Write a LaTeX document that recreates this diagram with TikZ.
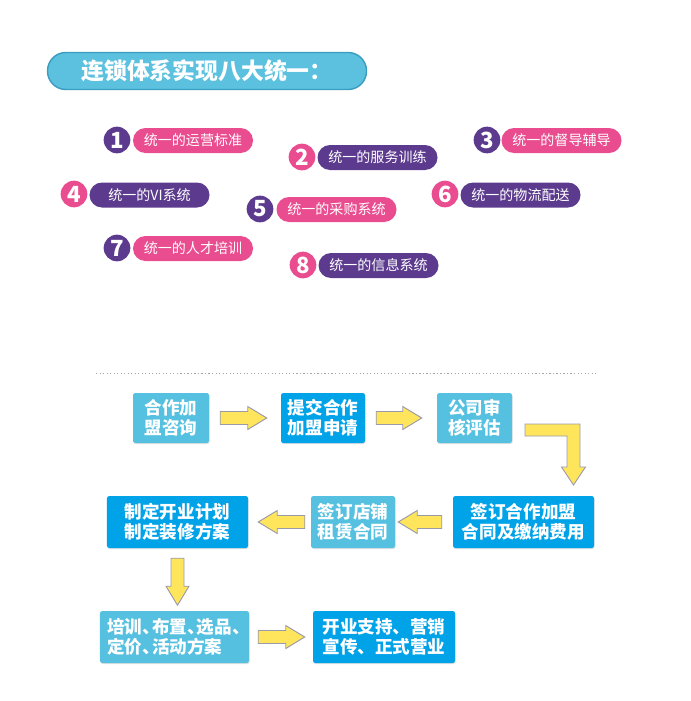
\documentclass[tikz,border=0pt]{standalone}
\usepackage{fontspec}
\setmainfont{Noto Sans CJK SC}
\usetikzlibrary{calc, shadows}

\definecolor{pinkpill}{HTML}{E94C8F}
\definecolor{purplepill}{HTML}{5C3B8E}
\definecolor{lightbox}{HTML}{56C0E0}
\definecolor{darkbox}{HTML}{00A2E8}
\definecolor{titlefill}{HTML}{5BC1DF}
\definecolor{titleline}{HTML}{3A9DC0}
\definecolor{arrowfill}{HTML}{FFE55C}
\definecolor{arrowline}{HTML}{9A9AAA}

% narrow enumeration comma
\newcommand{\dun}{\makebox[0.55em][l]{、}}

% fat yellow arrow from #1 to #2
\newcommand{\fatarrow}[2]{%
  \coordinate (fa-hb) at ($(#2)!0.57cm!(#1)$);
  \filldraw[fill=arrowfill, draw=arrowline, line width=0.8pt, line join=miter]
    ($(#1)!0.195cm!90:(#2)$) -- ($(fa-hb)!0.195cm!90:(#2)$)
    -- ($(fa-hb)!0.345cm!90:(#2)$) -- (#2)
    -- ($(fa-hb)!0.345cm!-90:(#2)$) -- ($(fa-hb)!0.195cm!-90:(#2)$)
    -- ($(#1)!0.195cm!-90:(#2)$) -- cycle;
}

\begin{document}
\begin{tikzpicture}[x=0.03cm, y=-0.03cm,
  pill/.style={rectangle, rounded corners=0.375cm, minimum width=3.6cm,
    minimum height=0.75cm, inner sep=0pt, text=white,
    font=\fontsize{12}{14}\selectfont},
  num/.style={circle, minimum size=0.8cm, inner sep=0pt, text=white,
    font=\fontsize{19}{20}\selectfont\bfseries},
  box/.style={rectangle, rounded corners=2pt, inner sep=0pt, text=white,
    align=center, font=\fontsize{15}{17}\selectfont\bfseries,
    drop shadow={shadow xshift=0.6pt, shadow yshift=-0.9pt, opacity=0.25}}]

\useasboundingbox (0,0) rectangle (690,701);

% title
\node[rectangle, rounded corners=0.55cm, fill=titlefill, draw=titleline,
  line width=1.2pt, minimum width=9.57cm, minimum height=1.11cm, text=white,
  font=\fontsize{19.5}{22}\selectfont\bfseries] (title) at (207,71)
  {连锁体系实现八大统一：};

% the eight items
\node[num, fill=purplepill] (n1) at (117,140) {1};
\node[pill, fill=pinkpill]  (u1) at (193,140.5) {统一的运营标准};
\node[num, fill=pinkpill]   (n2) at (302,157) {2};
\node[pill, fill=purplepill] (u2) at (377.5,157.5) {统一的服务训练};
\node[num, fill=purplepill] (n3) at (487,140) {3};
\node[pill, fill=pinkpill]  (u3) at (561.5,140.5) {统一的督导辅导};
\node[num, fill=pinkpill]   (n4) at (74,194) {4};
\node[pill, fill=purplepill] (u4) at (149.5,195) {统一的VI系统};
\node[num, fill=purplepill] (n5) at (260,209) {5};
\node[pill, fill=pinkpill]  (u5) at (336.5,209.5) {统一的采购系统};
\node[num, fill=pinkpill]   (n6) at (445,194) {6};
\node[pill, fill=purplepill] (u6) at (520.5,195) {统一的物流配送};
\node[num, fill=purplepill] (n7) at (117,248) {7};
\node[pill, fill=pinkpill]  (u7) at (193,248.5) {统一的人才培训};
\node[num, fill=pinkpill]   (n8) at (303,265) {8};
\node[pill, fill=purplepill] (u8) at (378.5,265.5) {统一的信息系统};

\draw[gray!70, line width=0.6pt, dash pattern=on 1pt off 2pt] (96,373) -- (598,373);

% flow boxes
\node[box, fill=lightbox, minimum width=2.28cm, minimum height=1.5cm] (A) at (171,418) {合作加\\盟咨询};
\node[box, fill=darkbox, minimum width=2.52cm, minimum height=1.5cm] (B) at (323,418) {提交合作\\加盟申请};
\node[box, fill=lightbox, minimum width=2.25cm, minimum height=1.5cm] (C) at (474.5,418) {公司审\\核评估};
\node[box, fill=darkbox, minimum width=4.23cm, minimum height=1.56cm] (D) at (523.5,522) {签订合作加盟\\合同及缴纳费用};
\node[box, fill=lightbox, minimum width=2.52cm, minimum height=1.56cm] (E) at (353,522) {签订店铺\\租赁合同};
\node[box, fill=darkbox, minimum width=4.23cm, minimum height=1.56cm] (F) at (177.5,522) {制定开业计划\\制定装修方案};
\node[box, fill=lightbox, minimum width=4.47cm, minimum height=1.56cm, align=left] (G) at (174.5,637) {培训\dun 布置\dun 选品\dun\\定价\dun 活动方案};
\node[box, fill=darkbox, minimum width=4.26cm, minimum height=1.56cm] (H) at (384,637) {开业支持、营销\\宣传、正式营业};

% arrows
\coordinate (ab1) at ($(A.east)+(11,0)$);
\coordinate (ab2) at ($(B.west)+(-14,0)$);
\fatarrow{ab1}{ab2}
\coordinate (bc1) at ($(B.east)+(11,0)$);
\coordinate (bc2) at ($(C.west)+(-15,0)$);
\fatarrow{bc1}{bc2}
\coordinate (de1) at ($(D.west)+(-11,0)$);
\coordinate (de2) at ($(E.east)+(3,0)$);
\fatarrow{de1}{de2}
\coordinate (ef1) at ($(E.west)+(-6,0)$);
\coordinate (ef2) at ($(F.east)+(10,0)$);
\fatarrow{ef1}{ef2}
\coordinate (fg1) at ($(F.south)+(0,10)$);
\coordinate (fg2) at ($(F.south)+(0,57)$);
\fatarrow{fg1}{fg2}
\coordinate (gh1) at ($(G.east)+(9,0)$);
\coordinate (gh2) at ($(H.west)+(-8,0)$);
\fatarrow{gh1}{gh2}

% bent arrow from C down to D
\filldraw[fill=arrowfill, draw=arrowline, line width=0.8pt, line join=miter]
  (525,424) -- (580,424) -- (580,467) -- (585.5,467) -- (573.5,485)
  -- (561.5,467) -- (567,467) -- (567,436) -- (525,436) -- cycle;

\end{tikzpicture}
\end{document}
